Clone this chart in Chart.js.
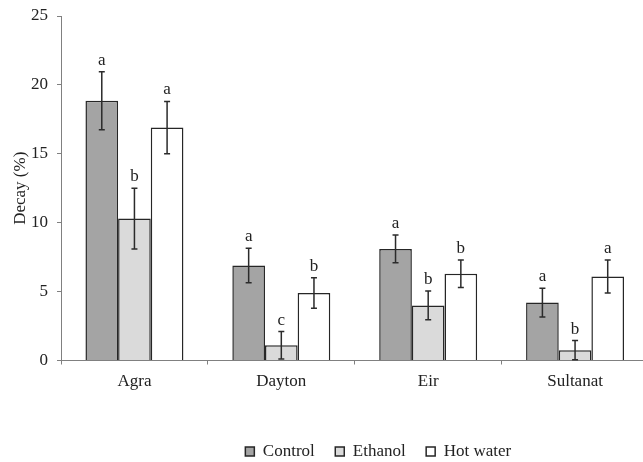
<!DOCTYPE html>
<html lang="en">
<head>
    <meta charset="UTF-8">
    <title>Decay (%)</title>
    <script src="https://cdn.jsdelivr.net/npm/chart.js"></script>
    <style>
      html, body {
        margin: 0;
        padding: 0;
        background: white;
        overflow: hidden;
      }
      canvas {
        display: block;
      }
    </style>
</head>
<body>
  <canvas id="decayChart" width="650" height="462"></canvas>

  <script>
    // values
    const cultivars = ['Agra', 'Dayton', 'Eir', 'Sultanat'];
    const seriesNames = ['Control', 'Ethanol', 'Hot water'];
    const control = [18.85, 6.9, 8.1, 4.2];
    const ethanol = [10.3, 1.1, 4.0, 0.75];
    const hotWater = [16.9, 4.9, 6.3, 6.1];
    const controlErr = [2.1, 1.25, 1.0, 1.05];
    const ethanolErr = [2.2, 1.0, 1.05, 0.7];
    const hotWaterErr = [1.9, 1.1, 1.0, 1.2];
    const controlLetters = ['a', 'a', 'a', 'a'];
    const ethanolLetters = ['b', 'c', 'b', 'b'];
    const hotWaterLetters = ['a', 'b', 'b', 'a'];
    const yTicks = [0, 5, 10, 15, 20, 25];

    const serif = '"Liberation Serif", "Times New Roman", serif';
    const ink = '#222222';
    const fontSize = 17;

    const errors = [controlErr, ethanolErr, hotWaterErr];
    const letters = [controlLetters, ethanolLetters, hotWaterLetters];

    // error bars and significance letters, placed with the chart's scales
    const errorBarPlugin = {
      id: 'errorBars',
      afterDatasetsDraw(chart) {
        const ctx = chart.ctx;
        const y = chart.scales.y;
        ctx.save();
        ctx.strokeStyle = '#2b2b2b';
        ctx.lineWidth = 1.5;
        ctx.fillStyle = ink;
        ctx.font = fontSize + 'px ' + serif;
        ctx.textAlign = 'center';
        ctx.textBaseline = 'alphabetic';
        chart.data.datasets.forEach((ds, di) => {
          const meta = chart.getDatasetMeta(di);
          meta.data.forEach((bar, i) => {
            const v = ds.data[i];
            const e = errors[di][i];
            const top = y.getPixelForValue(v + e);
            const bot = y.getPixelForValue(v - e);
            const x = bar.x;
            ctx.beginPath();
            ctx.moveTo(x, top);
            ctx.lineTo(x, bot);
            ctx.moveTo(x - 3, top);
            ctx.lineTo(x + 3, top);
            ctx.moveTo(x - 3, bot);
            ctx.lineTo(x + 3, bot);
            ctx.stroke();
            ctx.fillText(letters[di][i], x, top - 7);
          });
        });
        ctx.restore();
      }
    };

    // nudge the legend to where the original has it
    const legendPlacePlugin = {
      id: 'legendPlace',
      afterLayout(chart) {
        const lg = chart.legend;
        if (!lg) return;
        const dx = 54;
        lg.left += dx;
        lg.right += dx;
        const h = lg.height;
        lg.top = 422.5;
        lg.bottom = lg.top + h;
      }
    };

    const ctx = document.getElementById('decayChart').getContext('2d');
    new Chart(ctx, {
      type: 'bar',
      data: {
        labels: cultivars,
        datasets: [
          {
            label: seriesNames[0],
            data: control,
            backgroundColor: '#a4a4a4',
            borderColor: '#262626',
            borderWidth: 1.5
          },
          {
            label: seriesNames[1],
            data: ethanol,
            backgroundColor: '#dadada',
            borderColor: '#262626',
            borderWidth: 1.5
          },
          {
            label: seriesNames[2],
            data: hotWater,
            backgroundColor: '#ffffff',
            borderColor: '#262626',
            borderWidth: 1.5
          }
        ]
      },
      options: {
        responsive: false,
        animation: false,
        categoryPercentage: 0.667,
        barPercentage: 1.0,
        layout: {
          padding: { top: 16, right: 1.5, bottom: 0, left: 0 }
        },
        scales: {
          x: {
            grid: {
              display: true,
              offset: true,
              drawOnChartArea: false,
              drawTicks: true,
              tickLength: 4,
              color: '#808080'
            },
            border: { color: '#808080', width: 1 },
            ticks: {
              color: ink,
              padding: 7,
              font: { family: serif, size: fontSize }
            },
            afterFit(scale) { scale.height = 54; }
          },
          y: {
            min: 0,
            max: 25,
            afterBuildTicks(scale) {
              scale.ticks = yTicks.map(v => ({ value: v }));
            },
            grid: {
              display: true,
              drawOnChartArea: false,
              drawTicks: true,
              tickLength: 4,
              color: '#808080'
            },
            border: { color: '#808080', width: 1 },
            ticks: {
              color: ink,
              padding: 9,
              font: { family: serif, size: fontSize }
            },
            title: {
              display: true,
              text: 'Decay (%)',
              color: ink,
              font: { family: serif, size: fontSize },
              padding: { top: 10, bottom: 0 }
            },
            afterFit(scale) {
              scale.width = 61;
              scale.paddingTop = 0;
            }
          }
        },
        plugins: {
          legend: {
            position: 'bottom',
            labels: {
              color: ink,
              boxWidth: 9,
              boxHeight: 9,
              padding: 20.5,
              font: { family: serif, size: fontSize }
            }
          },
          tooltip: { enabled: false }
        }
      },
      plugins: [errorBarPlugin, legendPlacePlugin]
    });
  </script>
</body>
</html>
